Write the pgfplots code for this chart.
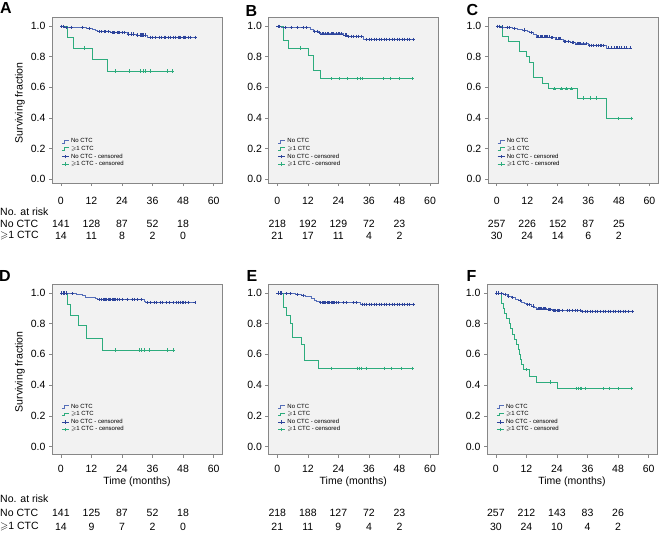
\documentclass[border=0pt]{standalone}
\usepackage{fontspec}
\setmainfont{Liberation Sans}
\usepackage{amssymb}
\usepackage{pgfplots}
\pgfplotsset{compat=1.18}
\definecolor{cblue}{RGB}{45,68,155}
\definecolor{cbluel}{RGB}{85,110,185}
\definecolor{cgreen}{RGB}{45,172,125}
\definecolor{cbg}{RGB}{242,242,242}
\definecolor{cframe}{RGB}{135,135,135}
\newcommand{\tf}{\fontsize{10.5}{12}\selectfont}
\pgfplotsset{
 km/.style={scale only axis, width=170pt, xmin=-3.5, xmax=63.3,
  xtick={0,12,...,60}, ytick={0,0.2,0.4,0.6,0.8,1.0},
  yticklabel style={/pgf/number format/.cd, fixed, fixed zerofill, precision=1},
  /pgf/number format/assume math mode=true,
  tick align=outside, tick pos=left, major tick length=3pt,
  axis background/.style={fill=cbg},
  axis line style={cframe, line width=0.6pt},
  every tick/.style={cframe, line width=0.6pt},
  tick label style={font=\tf},
  anchor=north west,
  legend cell align=left,
  legend style={anchor=north west, draw=none, fill=none,
    font=\fontsize{6}{6.5}\selectfont, row sep=-2.2pt, inner sep=0pt,
    cells={anchor=west}}},
 row1/.style={height=166pt, ymin=-0.026, ymax=1.06, legend style={at={(0.055,0.28)}},
   xticklabel style={yshift=-8pt}},
 row2/.style={height=170pt, ymin=-0.052, ymax=1.055, legend style={at={(0.055,0.31)}},
   xticklabel style={yshift=-4.5pt}},
 bline/.style={const plot, cbluel, line width=0.7pt,
   legend image code/.code={\draw[cbluel,line width=0.5pt] (0pt,-1.4pt)--(2.5pt,-1.4pt)--(2.5pt,1.4pt)--(7pt,1.4pt);}},
 gline/.style={const plot, cgreen, line width=0.7pt,
   legend image code/.code={\draw[cgreen,line width=0.5pt] (0pt,-1.4pt)--(2.5pt,-1.4pt)--(2.5pt,1.4pt)--(7pt,1.4pt);}},
 bmark/.style={only marks, mark=+, mark size=1.6pt, cblue, mark options={line width=0.5pt},
   legend image code/.code={\draw[cblue,line width=0.5pt] (0pt,0pt)--(7pt,0pt) (3.5pt,-1.8pt)--(3.5pt,1.8pt);}},
 gmark/.style={only marks, mark=+, mark size=1.6pt, cgreen, mark options={line width=0.5pt},
   legend image code/.code={\draw[cgreen,line width=0.5pt] (0pt,0pt)--(7pt,0pt) (3.5pt,-1.8pt)--(3.5pt,1.8pt);}},
}
\newcommand{\leg}{\legend{No CTC, $\geqslant$1 CTC, No CTC - censored, $\geqslant$1 CTC - censored}}
\newcommand{\riskrow}[7]{%
 \node[rk] at (#1pt,-#2pt) {#3};
 \node[rk] at ({#1pt+30.54pt},-#2pt) {#4};
 \node[rk] at ({#1pt+61.08pt},-#2pt) {#5};
 \node[rk] at ({#1pt+91.62pt},-#2pt) {#6};
 \node[rk] at ({#1pt+122.16pt},-#2pt) {#7};}
\begin{document}
\begin{tikzpicture}[rk/.style={font=\tf, inner sep=0pt}, lb/.style={font=\bfseries\fontsize{16}{18}\selectfont, inner sep=0pt}]
\path[use as bounding box] (0pt,0pt) rectangle (660pt,-536pt);
% ---------- A
\begin{axis}[km, row1, at={(52pt,-17pt)}]
\addplot[bline] coordinates {(0,1)(1.5,0.993)(10,0.986)(12.5,0.978)(13.5,0.971)(14.5,0.964)(19.5,0.957)(26,0.949)(29.5,0.942)(34,0.928)(52.8,0.928)};
\addplot[gline] coordinates {(0,1)(2.7,0.929)(4.9,0.857)(12.5,0.786)(18.1,0.707)(44.3,0.707)};
\addplot[bmark] coordinates {(0.3,1)(1,1)(2,0.993)(4,0.993)(8.5,0.993)(11,0.986)(15,0.964)(16,0.964)(17,0.964)(17.5,0.964)(18.5,0.964)(20,0.957)(20.5,0.957)(21,0.957)(22,0.957)(22.5,0.957)(23,0.957)(24,0.957)(25,0.957)(26.5,0.949)(27.5,0.949)(28.5,0.949)(30,0.942)(31,0.942)(31.5,0.942)(32,0.942)(32.5,0.942)(33,0.942)(35,0.928)(36,0.928)(37,0.928)(38.5,0.928)(39.5,0.928)(40.5,0.928)(41,0.928)(42,0.928)(43,0.928)(44,0.928)(45,0.928)(46,0.928)(46.5,0.928)(47,0.928)(48,0.928)(48.5,0.928)(49,0.928)(50,0.928)(51,0.928)(52.8,0.928)};
\addplot[gmark] coordinates {(9.2,0.857)(21.2,0.707)(27,0.707)(31.3,0.707)(32.2,0.707)(33.3,0.707)(35.2,0.707)(41.7,0.707)(43.9,0.707)};
\leg
\end{axis}
% ---------- B
\begin{axis}[km, row1, at={(268.4pt,-17pt)}]
\addplot[bline] coordinates {(0,1)(1.5,0.991)(13,0.98)(14,0.967)(16,0.958)(17,0.95)(26,0.942)(27.5,0.935)(34,0.915)(53.5,0.915)};
\addplot[gline] coordinates {(0,1)(2.4,0.905)(4.5,0.857)(12,0.81)(14,0.714)(17,0.657)(53.2,0.657)};
\addplot[bmark] coordinates {(0.3,1)(0.8,1)(3,0.991)(5.5,0.991)(8,0.991)(10,0.991)(11.5,0.991)(14.5,0.967)(15.5,0.967)(16.5,0.958)(17.5,0.95)(18,0.95)(19,0.95)(19.5,0.95)(20,0.95)(21,0.95)(21.5,0.95)(22,0.95)(23,0.95)(24,0.95)(24.5,0.95)(25,0.95)(26.5,0.942)(27,0.942)(28,0.935)(29,0.935)(30,0.935)(31,0.935)(32,0.935)(33,0.935)(35,0.915)(36,0.915)(37,0.915)(38,0.915)(39,0.915)(40,0.915)(41,0.915)(42,0.915)(43,0.915)(44,0.915)(45,0.915)(46,0.915)(47,0.915)(48,0.915)(49,0.915)(50,0.915)(51,0.915)(52,0.915)(53.5,0.915)};
\addplot[gmark] coordinates {(8.9,0.857)(21,0.657)(24.3,0.657)(27.3,0.657)(31.3,0.657)(32.6,0.657)(33.3,0.657)(41.8,0.657)(44.5,0.657)(48,0.657)(53.2,0.657)};
\leg
\end{axis}
% ---------- C
\begin{axis}[km, row1, at={(487.8pt,-17pt)}]
\addplot[bline] coordinates {(0,1)(1.5,0.995)(3,0.99)(6,0.985)(8,0.98)(10,0.975)(12,0.965)(13,0.957)(14.5,0.945)(15.5,0.93)(21,0.925)(23,0.917)(26,0.902)(29,0.895)(31,0.885)(36,0.874)(43,0.858)(52.5,0.858)};
\addplot[gline] coordinates {(0,1)(2.2,0.933)(4.4,0.9)(9,0.833)(11.7,0.8)(13,0.762)(14.3,0.662)(17.9,0.624)(20.2,0.59)(31.7,0.53)(43.1,0.397)(52.9,0.397)};
\addplot[bmark] coordinates {(0.3,1)(1,1)(2,0.995)(4,0.99)(5,0.99)(7,0.985)(11,0.975)(13.5,0.957)(16,0.93)(16.5,0.93)(17,0.93)(17.5,0.93)(18,0.93)(18.5,0.93)(19,0.93)(19.5,0.93)(20,0.93)(20.5,0.93)(21.5,0.925)(22,0.925)(23.5,0.917)(24,0.917)(24.5,0.917)(25,0.917)(26.5,0.902)(27,0.902)(28,0.902)(29.5,0.895)(30,0.895)(31.5,0.885)(32,0.885)(32.5,0.885)(33,0.885)(34,0.885)(35,0.885)(36.5,0.874)(37,0.874)(38,0.874)(39,0.874)(40,0.874)(40.5,0.874)(41,0.874)(42,0.874)(44,0.858)(45,0.858)(46,0.858)(47,0.858)(47.5,0.858)(48,0.858)(49,0.858)(50,0.858)(51,0.858)(52.5,0.858)};
\addplot[gmark] coordinates {(22.8,0.59)(25.4,0.59)(27.4,0.59)(29.3,0.59)(33.9,0.53)(36.6,0.53)(39.2,0.53)(47.7,0.397)(52.9,0.397)};
\leg
\end{axis}
% ---------- D
\begin{axis}[km, row2, at={(52pt,-284.5pt)}]
\addplot[bline] coordinates {(0,1)(2.5,0.995)(6,0.99)(8.5,0.982)(9.5,0.974)(13.5,0.966)(14.5,0.958)(32.8,0.945)(33.3,0.938)(52.6,0.938)};
\addplot[gline] coordinates {(0,1)(2.5,0.929)(3.9,0.857)(6.7,0.786)(10,0.707)(16.2,0.629)(44.2,0.629)};
\addplot[bmark] coordinates {(0.3,1)(1,1)(1.5,1)(2,1)(4.5,0.995)(15,0.958)(16,0.958)(16.5,0.958)(17,0.958)(17.5,0.958)(18,0.958)(18.5,0.958)(19,0.958)(19.5,0.958)(20,0.958)(20.5,0.958)(21,0.958)(21.5,0.958)(22,0.958)(23,0.958)(24,0.958)(26,0.958)(28,0.958)(29,0.958)(30,0.958)(31.5,0.958)(34,0.938)(35,0.938)(36.5,0.938)(37.5,0.938)(39,0.938)(40,0.938)(41.5,0.938)(42.5,0.938)(44,0.938)(45.5,0.938)(46,0.938)(47,0.938)(47.5,0.938)(48,0.938)(49,0.938)(50,0.938)(52.6,0.938)};
\addplot[gmark] coordinates {(21.2,0.629)(30.6,0.629)(31.6,0.629)(32.6,0.629)(34.8,0.629)(41.6,0.629)(44.2,0.629)};
\leg
\end{axis}
% ---------- E
\begin{axis}[km, row2, at={(268.4pt,-284.5pt)}]
\addplot[bline] coordinates {(0,1)(3,0.995)(7,0.99)(9.5,0.983)(11,0.975)(13.5,0.965)(14.5,0.955)(15.5,0.945)(16.5,0.937)(32.8,0.926)(53.3,0.926)};
\addplot[gline] coordinates {(0,1)(2.3,0.905)(3.7,0.857)(5,0.805)(6,0.714)(9.3,0.663)(10.5,0.558)(16,0.51)(53.1,0.51)};
\addplot[bmark] coordinates {(0.3,1)(1,1)(1.5,1)(3.5,0.995)(5,0.995)(8,0.99)(10,0.983)(17,0.937)(17.5,0.937)(18,0.937)(18.5,0.937)(19,0.937)(19.5,0.937)(20,0.937)(20.5,0.937)(21,0.937)(21.5,0.937)(22,0.937)(22.5,0.937)(23,0.937)(24,0.937)(26,0.937)(27,0.937)(30,0.937)(31,0.937)(33.5,0.926)(34,0.926)(35,0.926)(36,0.926)(37,0.926)(38,0.926)(39,0.926)(40,0.926)(41,0.926)(42,0.926)(43,0.926)(44,0.926)(45,0.926)(46,0.926)(47,0.926)(48,0.926)(49,0.926)(50,0.926)(51,0.926)(52,0.926)(53.3,0.926)};
\addplot[gmark] coordinates {(21.2,0.51)(31.5,0.51)(32.1,0.51)(32.8,0.51)(34.9,0.51)(42,0.51)(44.6,0.51)(48.6,0.51)(53.1,0.51)};
\leg
\end{axis}
% ---------- F
\begin{axis}[km, row2, at={(487pt,-284.5pt)}]
\addplot[bline] coordinates {(0,1)(1.5,0.996)(3,0.99)(4.5,0.98)(6,0.97)(7.5,0.96)(9,0.95)(10,0.94)(11,0.93)(12,0.925)(14,0.915)(15,0.905)(16,0.897)(20,0.892)(22,0.886)(33.5,0.879)(53.5,0.879)};
\addplot[gline] coordinates {(0,1)(2,0.933)(2.8,0.9)(3.5,0.867)(4.2,0.833)(5.3,0.8)(5.8,0.767)(6.3,0.733)(7.4,0.7)(8.2,0.667)(8.7,0.633)(9.3,0.6)(9.7,0.567)(10.1,0.533)(10.8,0.5)(13.2,0.458)(15.7,0.42)(24.1,0.378)(53.2,0.378)};
\addplot[bmark] coordinates {(0.3,1)(1,1)(2,0.996)(3.5,0.99)(5,0.98)(6.5,0.97)(9.5,0.95)(12.5,0.925)(13,0.925)(14.5,0.915)(16.5,0.897)(17,0.897)(17.5,0.897)(18,0.897)(18.5,0.897)(19,0.897)(19.5,0.897)(20.5,0.892)(21,0.892)(21.5,0.892)(22.5,0.886)(23,0.886)(23.5,0.886)(24,0.886)(24.5,0.886)(25,0.886)(26,0.886)(28,0.886)(29,0.886)(30,0.886)(31,0.886)(32,0.886)(33,0.886)(34,0.879)(35,0.879)(36,0.879)(37,0.879)(38,0.879)(39,0.879)(40,0.879)(41,0.879)(42,0.879)(43,0.879)(44,0.879)(45,0.879)(46,0.879)(47,0.879)(48,0.879)(49,0.879)(50,0.879)(51,0.879)(52,0.879)(53.5,0.879)};
\addplot[gmark] coordinates {(12,0.5)(21.4,0.42)(31.7,0.378)(32.4,0.378)(33,0.378)(33.7,0.378)(35,0.378)(42,0.378)(44.6,0.378)(47.9,0.378)(53.2,0.378)};
\leg
\end{axis}
% ---------- labels
\node[lb] at (6pt,-7.5pt) {A};
\node[lb] at (251.5pt,-10.5pt) {B};
\node[lb] at (472.5pt,-9.5pt) {C};
\node[lb] at (5pt,-275.5pt) {D};
\node[lb] at (252pt,-276pt) {E};
\node[lb] at (471.5pt,-275.5pt) {F};
\node[rk, rotate=90] at (20pt,-103pt) {Surviving fraction};
\node[rk, rotate=90] at (20pt,-372pt) {Surviving fraction};
\node[rk] at (137pt,-482pt) {Time (months)};
\node[rk] at (353.3pt,-482pt) {Time (months)};
\node[rk] at (572pt,-482pt) {Time (months)};
% ---------- at risk
\node[rk, anchor=west] at (0pt,-212pt) {No. at risk};
\node[rk, anchor=west] at (0pt,-224pt) {No CTC};
\node[rk, anchor=west] at (0pt,-236pt) {$\geqslant$1 CTC};
\node[rk, anchor=west] at (0pt,-499pt) {No. at risk};
\node[rk, anchor=west] at (0pt,-513pt) {No CTC};
\node[rk, anchor=west] at (0pt,-527pt) {$\geqslant$1 CTC};
\riskrow{60.9}{224}{141}{128}{87}{52}{18}
\riskrow{60.9}{236}{14}{11}{8}{2}{0}
\riskrow{277.3}{224}{218}{192}{129}{72}{23}
\riskrow{277.3}{236}{21}{17}{11}{4}{2}
\riskrow{496.7}{224}{257}{226}{152}{87}{25}
\riskrow{496.7}{236}{30}{24}{14}{6}{2}
\riskrow{60.9}{513}{141}{125}{87}{52}{18}
\riskrow{60.9}{527}{14}{9}{7}{2}{0}
\riskrow{277.3}{513}{218}{188}{127}{72}{23}
\riskrow{277.3}{527}{21}{11}{9}{4}{2}
\riskrow{495.9}{513}{257}{212}{143}{83}{26}
\riskrow{495.9}{527}{30}{24}{10}{4}{2}
\end{tikzpicture}
\end{document}
